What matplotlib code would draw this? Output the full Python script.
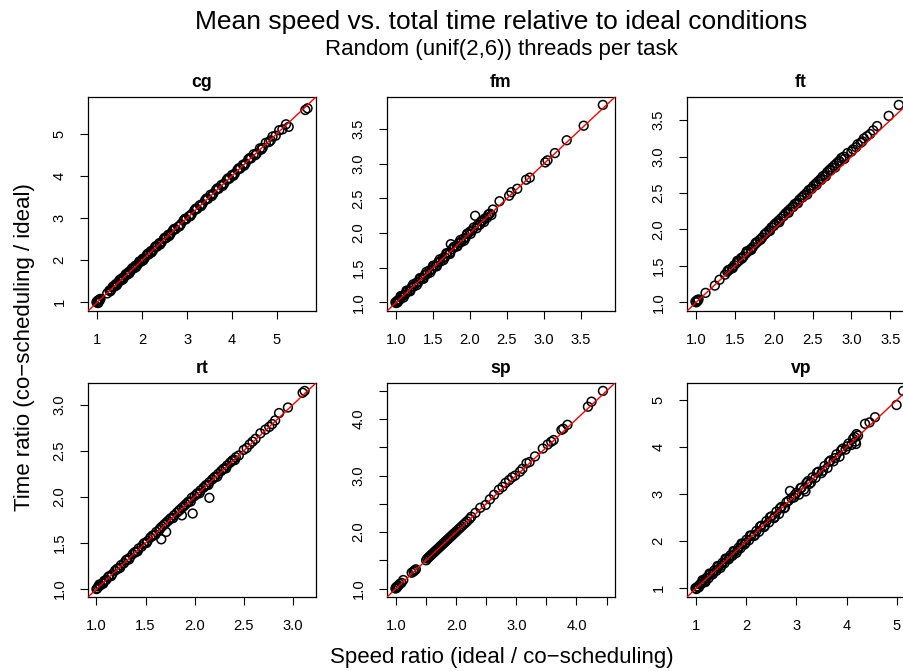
import matplotlib
matplotlib.use("Agg")
import matplotlib.pyplot as plt
from matplotlib.ticker import MultipleLocator, FuncFormatter

plt.rcParams["font.family"] = ["Liberation Sans", "DejaVu Sans"]

# --- data (speed ratio x, time ratio y) ---
cg_x = [0.98, 1.00, 1.01, 1.02, 1.03, 1.05, 1.07, 1.22, 1.27, 1.31,
        1.34, 1.38, 1.41, 1.45, 1.48, 1.52, 1.55, 1.59, 1.62, 1.66,
        1.70, 1.73, 1.77, 1.81, 1.85, 1.89, 1.93, 1.97, 2.01, 2.05,
        2.10, 2.14, 2.19, 2.24, 2.28, 2.33, 2.38, 2.43, 2.48, 2.53,
        2.58, 2.63, 2.68, 2.74, 2.80, 2.86, 2.92, 2.98, 3.04, 3.10,
        3.16, 3.22, 3.28, 3.34, 3.40, 3.46, 3.52, 3.58, 3.64, 3.70,
        3.76, 3.82, 3.88, 3.94, 4.00, 4.06, 4.12, 4.18, 4.24, 4.30,
        4.36, 4.42, 4.48, 4.55, 4.62, 4.68, 4.75, 4.82, 4.90, 4.97,
        5.05, 5.12, 5.20, 5.26, 5.63, 5.68,
        1.00, 1.02, 1.04, 1.29, 1.36, 1.43, 1.50, 1.57, 1.64, 1.71, 1.78,
        1.86, 1.94, 2.02, 2.12, 2.21, 2.30, 2.40, 2.50, 2.60, 2.71,
        2.83, 2.95, 3.07, 3.19, 3.31, 3.43, 3.55, 3.67, 3.79, 3.91,
        4.03, 4.15, 4.27, 4.39, 4.52, 4.65, 4.86]
cg_y = [1.00, 0.99, 1.02, 1.01, 1.04, 1.04, 1.08, 1.21, 1.28, 1.30,
        1.36, 1.37, 1.43, 1.44, 1.50, 1.51, 1.57, 1.58, 1.64, 1.65,
        1.72, 1.72, 1.79, 1.80, 1.87, 1.88, 1.95, 1.96, 2.03, 2.04,
        2.12, 2.13, 2.21, 2.23, 2.30, 2.32, 2.40, 2.42, 2.50, 2.52,
        2.60, 2.62, 2.70, 2.73, 2.79, 2.85, 2.94, 2.97, 3.04, 3.09,
        3.18, 3.21, 3.30, 3.33, 3.42, 3.45, 3.55, 3.57, 3.66, 3.69,
        3.78, 3.81, 3.90, 3.93, 4.02, 4.05, 4.14, 4.17, 4.26, 4.29,
        4.39, 4.41, 4.51, 4.53, 4.65, 4.66, 4.78, 4.80, 4.93, 4.95,
        5.08, 5.10, 5.22, 5.16, 5.56, 5.60,
        1.03, 0.98, 1.06, 1.26, 1.38, 1.40, 1.53, 1.54, 1.67, 1.68, 1.81,
        1.83, 1.97, 1.99, 2.15, 2.18, 2.33, 2.37, 2.53, 2.57, 2.74,
        2.80, 2.98, 3.04, 3.22, 3.28, 3.46, 3.52, 3.70, 3.76, 3.94,
        4.00, 4.18, 4.24, 4.42, 4.49, 4.62, 4.84]

fm_x = [0.99, 1.00, 1.01, 1.03, 1.05, 1.07, 1.09, 1.12, 1.15, 1.18,
        1.21, 1.24, 1.27, 1.30, 1.33, 1.36, 1.39, 1.42, 1.45, 1.48,
        1.51, 1.54, 1.57, 1.60, 1.63, 1.66, 1.69, 1.72, 1.74, 1.76,
        1.79, 1.82, 1.85, 1.88, 1.91, 1.94, 1.97, 2.00, 2.03, 2.07,
        2.10, 2.13, 2.17, 2.20, 2.23, 2.27, 2.31, 2.40, 2.53, 2.56,
        2.64, 2.76, 2.81, 3.02, 3.05, 3.15, 3.31, 3.54, 3.80,
        1.02, 1.06, 1.10, 1.14, 1.19, 1.23, 1.28, 1.32, 1.37, 1.41,
        1.46, 1.50, 1.55, 1.59, 1.64, 1.68, 1.73, 1.78, 1.83, 1.87,
        1.92, 1.96, 2.01, 2.05, 2.09, 2.15, 2.19, 2.25, 2.29]
fm_y = [1.00, 0.99, 1.02, 1.03, 1.04, 1.07, 1.10, 1.11, 1.16, 1.17,
        1.22, 1.23, 1.28, 1.29, 1.34, 1.35, 1.40, 1.41, 1.46, 1.47,
        1.52, 1.53, 1.58, 1.59, 1.64, 1.65, 1.70, 1.71, 1.84, 1.77,
        1.80, 1.81, 1.86, 1.87, 1.92, 1.93, 1.99, 2.02, 2.04, 2.25,
        2.11, 2.12, 2.18, 2.21, 2.22, 2.28, 2.34, 2.46, 2.54, 2.59,
        2.64, 2.77, 2.80, 3.02, 3.05, 3.155, 3.34, 3.55, 3.85,
        1.00, 1.09, 1.07, 1.17, 1.16, 1.26, 1.25, 1.35, 1.34, 1.44,
        1.43, 1.53, 1.52, 1.62, 1.61, 1.71, 1.70, 1.80, 1.81, 1.90,
        1.89, 1.99, 1.99, 2.08, 2.07, 2.17, 2.16, 2.27, 2.26]

ft_x = [0.99, 1.00, 1.01, 1.02, 1.03, 1.12, 1.24, 1.30, 1.37, 1.40,
        1.43, 1.46, 1.49, 1.52, 1.55, 1.58, 1.61, 1.64, 1.67, 1.70,
        1.73, 1.76, 1.79, 1.82, 1.85, 1.88, 1.91, 1.94, 1.97, 2.00,
        2.03, 2.06, 2.09, 2.12, 2.15, 2.18, 2.21, 2.24, 2.27, 2.30,
        2.33, 2.36, 2.39, 2.42, 2.45, 2.48, 2.51, 2.54, 2.57, 2.60,
        2.63, 2.66, 2.69, 2.72, 2.75, 2.78, 2.81, 2.84, 2.87, 2.90,
        2.95, 3.02, 3.08, 3.12, 3.16, 3.20, 3.24, 3.28, 3.33, 3.48,
        3.61,
        1.41, 1.47, 1.53, 1.59, 1.65, 1.71, 1.77, 1.83, 1.89, 1.95,
        2.01, 2.07, 2.13, 2.19, 2.25, 2.31, 2.37, 2.43, 2.49, 2.55,
        2.61, 2.67, 2.73, 2.79, 2.85, 2.91, 3.00, 3.06, 3.14]
ft_y = [1.01, 1.00, 1.03, 1.02, 1.04, 1.13, 1.23, 1.31, 1.38, 1.42,
        1.45, 1.47, 1.51, 1.54, 1.57, 1.61, 1.63, 1.67, 1.70, 1.73,
        1.76, 1.80, 1.83, 1.86, 1.89, 1.93, 1.96, 1.99, 2.03, 2.05,
        2.09, 2.12, 2.15, 2.18, 2.22, 2.25, 2.28, 2.31, 2.35, 2.37,
        2.41, 2.44, 2.47, 2.50, 2.54, 2.56, 2.60, 2.63, 2.66, 2.69,
        2.73, 2.75, 2.79, 2.82, 2.85, 2.88, 2.91, 2.94, 2.98, 3.00,
        3.05, 3.10, 3.17, 3.19, 3.25, 3.28, 3.31, 3.36, 3.42, 3.56,
        3.71,
        1.44, 1.47, 1.57, 1.60, 1.70, 1.72, 1.82, 1.86, 1.94, 1.98,
        2.07, 2.10, 2.19, 2.23, 2.31, 2.36, 2.44, 2.48, 2.56, 2.61,
        2.68, 2.73, 2.81, 2.85, 2.93, 2.97, 3.07, 3.13, 3.21]

rt_x = [1.00, 1.01, 1.02, 1.04, 1.06, 1.08, 1.10, 1.13, 1.16, 1.19,
        1.22, 1.25, 1.28, 1.31, 1.34, 1.37, 1.40, 1.43, 1.46, 1.49,
        1.52, 1.55, 1.58, 1.61, 1.64, 1.66, 1.67, 1.71, 1.71, 1.73,
        1.76, 1.79, 1.82, 1.85, 1.87, 1.87, 1.91, 1.94, 1.97, 1.98,
        2.00, 2.03, 2.06, 2.09, 2.12, 2.15, 2.15, 2.18, 2.21, 2.24,
        2.27, 2.30, 2.33, 2.36, 2.39, 2.42, 2.45, 2.50, 2.53, 2.56,
        2.59, 2.62, 2.67, 2.72, 2.76, 2.79, 2.82, 2.86, 2.95, 3.10,
        3.12,
        1.03, 1.07, 1.12, 1.15, 1.21, 1.24, 1.30, 1.33, 1.39, 1.42,
        1.48, 1.51, 1.57, 1.60, 1.65, 1.69, 1.75, 1.78, 1.84, 1.89,
        1.93, 1.96, 2.02, 2.05, 2.11, 2.14, 2.20, 2.23, 2.29, 2.32,
        2.38, 2.41]
rt_y = [1.00, 1.01, 1.03, 1.04, 1.06, 1.09, 1.10, 1.14, 1.16, 1.20,
        1.22, 1.26, 1.28, 1.32, 1.34, 1.38, 1.40, 1.44, 1.46, 1.50,
        1.52, 1.56, 1.58, 1.62, 1.64, 1.54, 1.68, 1.62, 1.72, 1.74,
        1.77, 1.80, 1.83, 1.86, 1.88, 1.80, 1.92, 1.95, 1.99, 1.82,
        2.01, 2.04, 2.07, 2.10, 2.13, 2.16, 1.99, 2.19, 2.22, 2.25,
        2.28, 2.31, 2.34, 2.37, 2.40, 2.43, 2.45, 2.51, 2.53, 2.57,
        2.60, 2.63, 2.69, 2.73, 2.76, 2.79, 2.83, 2.91, 2.97, 3.13,
        3.15,
        1.05, 1.06, 1.13, 1.14, 1.22, 1.23, 1.31, 1.32, 1.40, 1.41,
        1.49, 1.50, 1.58, 1.59, 1.66, 1.70, 1.76, 1.77, 1.85, 1.90,
        1.94, 1.95, 2.03, 2.04, 2.12, 2.13, 2.21, 2.22, 2.30, 2.31,
        2.39, 2.40]

sp_x = [0.99, 1.00, 1.01, 1.02, 1.04, 1.06, 1.09, 1.12, 1.26, 1.29,
        1.31, 1.33, 1.50, 1.52, 1.54, 1.56, 1.58, 1.60, 1.62, 1.64,
        1.66, 1.68, 1.70, 1.72, 1.74, 1.76, 1.78, 1.80, 1.82, 1.84,
        1.86, 1.88, 1.90, 1.92, 1.94, 1.96, 1.98, 2.00, 2.03, 2.06,
        2.09, 2.12, 2.15, 2.22, 2.32, 2.40, 2.49, 2.56, 2.63, 2.71,
        2.77, 2.82, 2.88, 2.93, 2.98, 3.06, 3.10, 3.17, 3.22, 3.31,
        3.44, 3.52, 3.58, 3.62, 3.75, 3.78, 3.85, 4.19, 4.25, 4.44,
        2.18, 2.25]
sp_y = [1.00, 1.02, 1.01, 1.04, 1.05, 1.08, 1.10, 1.15, 1.28, 1.30,
        1.32, 1.34, 1.50, 1.53, 1.55, 1.57, 1.59, 1.61, 1.63, 1.65,
        1.67, 1.69, 1.71, 1.73, 1.75, 1.77, 1.79, 1.81, 1.83, 1.85,
        1.87, 1.89, 1.91, 1.93, 1.95, 1.97, 1.99, 2.01, 2.04, 2.07,
        2.10, 2.13, 2.16, 2.23, 2.34, 2.43, 2.48, 2.58, 2.66, 2.75,
        2.80, 2.87, 2.92, 2.97, 3.00, 3.07, 3.12, 3.22, 3.24, 3.34,
        3.48, 3.55, 3.60, 3.63, 3.81, 3.83, 3.90, 4.22, 4.31, 4.50,
        2.19, 2.27]

vp_x = [0.98, 1.00, 1.02, 1.04, 1.07, 1.10, 1.13, 1.16, 1.20, 1.24,
        1.28, 1.32, 1.36, 1.40, 1.44, 1.48, 1.52, 1.56, 1.60, 1.64,
        1.68, 1.72, 1.76, 1.80, 1.84, 1.88, 1.92, 1.96, 2.00, 2.05,
        2.10, 2.15, 2.20, 2.25, 2.30, 2.35, 2.40, 2.45, 2.50, 2.55,
        2.60, 2.65, 2.70, 2.75, 2.80, 2.87, 2.90, 2.95, 3.00, 3.05,
        3.10, 3.18, 3.20, 3.26, 3.32, 3.38, 3.44, 3.50, 3.56, 3.62,
        3.68, 3.74, 3.80, 3.86, 3.92, 3.98, 4.04, 4.10, 4.16, 4.19,
        4.20, 4.37, 4.46, 4.57, 5.00, 5.13,
        1.05, 1.12, 1.18, 1.26, 1.34, 1.42, 1.50, 1.58, 1.66, 1.74,
        1.82, 1.90, 1.98, 2.07, 2.17, 2.27, 2.37, 2.47, 2.57, 2.67,
        2.77, 2.84, 2.97, 3.08, 3.15, 3.23, 3.29, 3.41, 3.53, 3.65,
        3.77, 3.89, 4.01, 4.13, 4.18, 4.23]
vp_y = [1.00, 0.98, 1.03, 1.02, 1.08, 1.09, 1.15, 1.14, 1.22, 1.21,
        1.30, 1.29, 1.38, 1.37, 1.46, 1.43, 1.54, 1.53, 1.62, 1.61,
        1.70, 1.69, 1.78, 1.75, 1.86, 1.85, 1.94, 1.93, 2.03, 2.02,
        2.12, 2.11, 2.22, 2.20, 2.33, 2.30, 2.43, 2.40, 2.53, 2.49,
        2.63, 2.58, 2.73, 2.70, 2.83, 3.07, 2.92, 2.93, 3.03, 2.99,
        3.14, 3.06, 3.24, 3.22, 3.36, 3.35, 3.48, 3.45, 3.60, 3.56,
        3.72, 3.70, 3.85, 3.80, 3.97, 3.95, 4.08, 4.05, 4.22, 4.07,
        4.28, 4.50, 4.53, 4.64, 4.90, 5.20,
        1.02, 1.17, 1.13, 1.31, 1.32, 1.47, 1.48, 1.63, 1.64, 1.79,
        1.80, 1.95, 1.96, 2.12, 2.13, 2.31, 2.33, 2.51, 2.52, 2.70,
        2.72, 2.86, 2.99, 3.13, 3.10, 3.28, 3.25, 3.46, 3.50, 3.69,
        3.77, 3.93, 4.02, 4.18, 4.12, 4.25]

names = ["cg", "fm", "ft", "rt", "sp", "vp"]
xs = [cg_x, fm_x, ft_x, rt_x, sp_x, vp_x]
ys = [cg_y, fm_y, ft_y, rt_y, sp_y, vp_y]
# tick step, label format, label every
ticks = [(1, "%d", 1), (0.5, "%.1f", 0.5), (0.5, "%.1f", 0.5),
         (0.5, "%.1f", 0.5), (0.5, "%.1f", 1.0), (1, "%d", 1)]

W, H = 904, 671
fig = plt.figure(figsize=(W / 100, H / 100), dpi=100)

col_left = [88, 387, 687]
row_top = [97, 383]
pw, ph = 228, 214


def make_fmt(fmt, every):
    def f(v, pos):
        k = v / every
        return fmt % v if abs(k - round(k)) < 1e-6 else ""
    return f


for i, name in enumerate(names):
    r, c = divmod(i, 3)
    left = col_left[c] / W
    bottom = 1 - (row_top[r] + ph) / H
    ax = fig.add_axes([left, bottom, pw / W, ph / H])
    x, y = xs[i], ys[i]
    ax.scatter(x, y, s=40, facecolors="none", edgecolors="black",
               linewidths=1.1, zorder=2)
    ax.axline((1, 1), slope=1, color="red", lw=1, zorder=3)
    lo = min(min(x), min(y))
    hi = max(max(x), max(y))
    pad = 0.04 * (hi - lo)
    ax.set_xlim(lo - pad, hi + pad)
    ax.set_ylim(lo - pad, hi + pad)
    step, fmt, every = ticks[i]
    for axis in (ax.xaxis, ax.yaxis):
        axis.set_major_locator(MultipleLocator(step))
        axis.set_major_formatter(FuncFormatter(make_fmt(fmt, every)))
    ax.tick_params(direction="out", length=6, width=0.8, pad=9.5,
                   labelsize=10.6, colors="black")
    ax.tick_params(axis="y", labelrotation=90)
    for lab in ax.get_yticklabels():
        lab.set_va("center")
    for sp in ax.spines.values():
        sp.set_linewidth(0.9)
    ax.set_title(name, fontsize=12.7, fontweight="bold", pad=7.5)

cx = (col_left[0] + col_left[2] + pw) / 2 / W
fig.text(cx, 1 - 22 / H, "Mean speed vs. total time relative to ideal conditions",
         ha="center", va="center", fontsize=19)
fig.text(cx, 1 - 50 / H, "Random (unif(2,6)) threads per task",
         ha="center", va="center", fontsize=16)
fig.text(cx, 1 - 657 / H, "Speed ratio (ideal / co\u2212scheduling)",
         ha="center", va="center", fontsize=16)
fig.text(25 / W, 1 - 347 / H, "Time ratio (co\u2212scheduling / ideal)",
         ha="center", va="center", rotation=90, fontsize=16)

fig.savefig("out.png", dpi=100)
